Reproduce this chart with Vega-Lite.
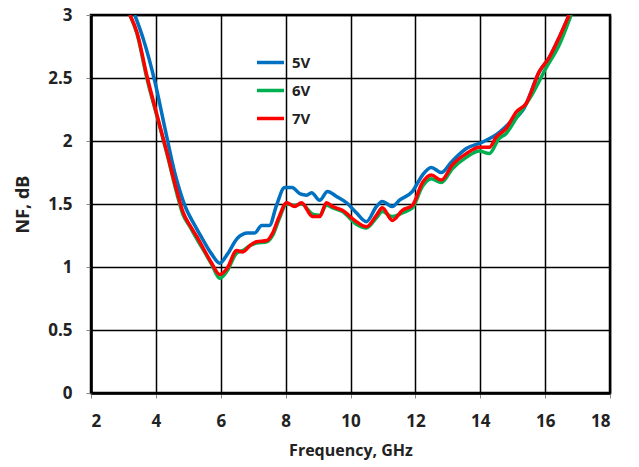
{
  "$schema": "https://vega.github.io/schema/vega-lite/v6.json",
  "width": 519,
  "height": 378,
  "autosize": {"type": "none"},
  "padding": {"left": 91, "top": 15, "right": 29, "bottom": 74},
  "background": "white",
  "config": {
    "view": {"stroke": "black", "strokeWidth": 2.5},
    "font": "Open Sans"
  },
  "data": {
    "values": [
      {"f": 3.35, "nf": 3.0, "s": "5V"}, {"f": 3.6, "nf": 2.82, "s": "5V"}, {"f": 3.97, "nf": 2.47, "s": "5V"}, {"f": 4.28, "nf": 2.1, "s": "5V"}, {"f": 4.58, "nf": 1.75, "s": "5V"}, {"f": 4.89, "nf": 1.49, "s": "5V"}, {"f": 5.2, "nf": 1.33, "s": "5V"}, {"f": 5.42, "nf": 1.23, "s": "5V"}, {"f": 5.7, "nf": 1.11, "s": "5V"}, {"f": 5.97, "nf": 1.03, "s": "5V"}, {"f": 6.2, "nf": 1.1, "s": "5V"}, {"f": 6.52, "nf": 1.23, "s": "5V"}, {"f": 6.83, "nf": 1.27, "s": "5V"}, {"f": 7.05, "nf": 1.27, "s": "5V"}, {"f": 7.26, "nf": 1.33, "s": "5V"}, {"f": 7.5, "nf": 1.33, "s": "5V"}, {"f": 7.72, "nf": 1.49, "s": "5V"}, {"f": 7.97, "nf": 1.63, "s": "5V"}, {"f": 8.2, "nf": 1.63, "s": "5V"}, {"f": 8.45, "nf": 1.58, "s": "5V"}, {"f": 8.65, "nf": 1.57, "s": "5V"}, {"f": 8.8, "nf": 1.59, "s": "5V"}, {"f": 9.05, "nf": 1.53, "s": "5V"}, {"f": 9.29, "nf": 1.6, "s": "5V"}, {"f": 9.57, "nf": 1.56, "s": "5V"}, {"f": 9.88, "nf": 1.51, "s": "5V"}, {"f": 10.18, "nf": 1.43, "s": "5V"}, {"f": 10.49, "nf": 1.36, "s": "5V"}, {"f": 10.8, "nf": 1.48, "s": "5V"}, {"f": 10.98, "nf": 1.52, "s": "5V"}, {"f": 11.29, "nf": 1.48, "s": "5V"}, {"f": 11.51, "nf": 1.53, "s": "5V"}, {"f": 11.91, "nf": 1.6, "s": "5V"}, {"f": 12.22, "nf": 1.73, "s": "5V"}, {"f": 12.49, "nf": 1.79, "s": "5V"}, {"f": 12.8, "nf": 1.75, "s": "5V"}, {"f": 13.1, "nf": 1.83, "s": "5V"}, {"f": 13.57, "nf": 1.94, "s": "5V"}, {"f": 14.06, "nf": 1.99, "s": "5V"}, {"f": 14.49, "nf": 2.05, "s": "5V"}, {"f": 14.89, "nf": 2.14, "s": "5V"}, {"f": 15.35, "nf": 2.26, "s": "5V"}, {"f": 15.82, "nf": 2.55, "s": "5V"}, {"f": 16.12, "nf": 2.66, "s": "5V"}, {"f": 16.43, "nf": 2.82, "s": "5V"}, {"f": 16.74, "nf": 3.0, "s": "5V"},

      {"f": 3.2, "nf": 3.0, "s": "6V"}, {"f": 3.42, "nf": 2.85, "s": "6V"}, {"f": 3.72, "nf": 2.5, "s": "6V"}, {"f": 4.03, "nf": 2.2, "s": "6V"}, {"f": 4.34, "nf": 1.9, "s": "6V"}, {"f": 4.65, "nf": 1.58, "s": "6V"}, {"f": 4.83, "nf": 1.42, "s": "6V"}, {"f": 5.05, "nf": 1.32, "s": "6V"}, {"f": 5.29, "nf": 1.21, "s": "6V"}, {"f": 5.5, "nf": 1.12, "s": "6V"}, {"f": 5.72, "nf": 1.02, "s": "6V"}, {"f": 5.97, "nf": 0.91, "s": "6V"}, {"f": 6.2, "nf": 0.97, "s": "6V"}, {"f": 6.49, "nf": 1.11, "s": "6V"}, {"f": 6.68, "nf": 1.13, "s": "6V"}, {"f": 6.9, "nf": 1.17, "s": "6V"}, {"f": 7.1, "nf": 1.19, "s": "6V"}, {"f": 7.42, "nf": 1.2, "s": "6V"}, {"f": 7.6, "nf": 1.25, "s": "6V"}, {"f": 7.8, "nf": 1.38, "s": "6V"}, {"f": 8.03, "nf": 1.5, "s": "6V"}, {"f": 8.28, "nf": 1.49, "s": "6V"}, {"f": 8.49, "nf": 1.5, "s": "6V"}, {"f": 8.83, "nf": 1.42, "s": "6V"}, {"f": 9.05, "nf": 1.41, "s": "6V"}, {"f": 9.26, "nf": 1.49, "s": "6V"}, {"f": 9.45, "nf": 1.47, "s": "6V"}, {"f": 9.75, "nf": 1.44, "s": "6V"}, {"f": 10.18, "nf": 1.34, "s": "6V"}, {"f": 10.49, "nf": 1.31, "s": "6V"}, {"f": 10.8, "nf": 1.39, "s": "6V"}, {"f": 10.98, "nf": 1.44, "s": "6V"}, {"f": 11.29, "nf": 1.4, "s": "6V"}, {"f": 11.6, "nf": 1.43, "s": "6V"}, {"f": 11.91, "nf": 1.47, "s": "6V"}, {"f": 12.22, "nf": 1.64, "s": "6V"}, {"f": 12.49, "nf": 1.7, "s": "6V"}, {"f": 12.8, "nf": 1.67, "s": "6V"}, {"f": 13.14, "nf": 1.78, "s": "6V"}, {"f": 13.57, "nf": 1.87, "s": "6V"}, {"f": 13.97, "nf": 1.92, "s": "6V"}, {"f": 14.28, "nf": 1.9, "s": "6V"}, {"f": 14.58, "nf": 2.02, "s": "6V"}, {"f": 14.8, "nf": 2.06, "s": "6V"}, {"f": 15.11, "nf": 2.18, "s": "6V"}, {"f": 15.6, "nf": 2.37, "s": "6V"}, {"f": 16.03, "nf": 2.58, "s": "6V"}, {"f": 16.43, "nf": 2.76, "s": "6V"}, {"f": 16.8, "nf": 3.0, "s": "6V"},

      {"f": 3.2, "nf": 3.0, "s": "7V"}, {"f": 3.42, "nf": 2.86, "s": "7V"}, {"f": 3.72, "nf": 2.52, "s": "7V"}, {"f": 4.03, "nf": 2.21, "s": "7V"}, {"f": 4.34, "nf": 1.91, "s": "7V"}, {"f": 4.65, "nf": 1.6, "s": "7V"}, {"f": 4.83, "nf": 1.44, "s": "7V"}, {"f": 5.05, "nf": 1.33, "s": "7V"}, {"f": 5.29, "nf": 1.23, "s": "7V"}, {"f": 5.5, "nf": 1.13, "s": "7V"}, {"f": 5.72, "nf": 1.03, "s": "7V"}, {"f": 5.97, "nf": 0.94, "s": "7V"}, {"f": 6.2, "nf": 0.99, "s": "7V"}, {"f": 6.49, "nf": 1.13, "s": "7V"}, {"f": 6.68, "nf": 1.12, "s": "7V"}, {"f": 6.9, "nf": 1.17, "s": "7V"}, {"f": 7.1, "nf": 1.2, "s": "7V"}, {"f": 7.42, "nf": 1.21, "s": "7V"}, {"f": 7.6, "nf": 1.27, "s": "7V"}, {"f": 7.8, "nf": 1.4, "s": "7V"}, {"f": 8.03, "nf": 1.51, "s": "7V"}, {"f": 8.28, "nf": 1.48, "s": "7V"}, {"f": 8.49, "nf": 1.51, "s": "7V"}, {"f": 8.83, "nf": 1.4, "s": "7V"}, {"f": 9.05, "nf": 1.4, "s": "7V"}, {"f": 9.26, "nf": 1.51, "s": "7V"}, {"f": 9.45, "nf": 1.48, "s": "7V"}, {"f": 9.75, "nf": 1.45, "s": "7V"}, {"f": 10.18, "nf": 1.36, "s": "7V"}, {"f": 10.49, "nf": 1.32, "s": "7V"}, {"f": 10.8, "nf": 1.41, "s": "7V"}, {"f": 10.98, "nf": 1.47, "s": "7V"}, {"f": 11.29, "nf": 1.37, "s": "7V"}, {"f": 11.6, "nf": 1.45, "s": "7V"}, {"f": 11.91, "nf": 1.49, "s": "7V"}, {"f": 12.22, "nf": 1.67, "s": "7V"}, {"f": 12.49, "nf": 1.73, "s": "7V"}, {"f": 12.8, "nf": 1.69, "s": "7V"}, {"f": 13.14, "nf": 1.81, "s": "7V"}, {"f": 13.57, "nf": 1.9, "s": "7V"}, {"f": 13.97, "nf": 1.95, "s": "7V"}, {"f": 14.28, "nf": 1.95, "s": "7V"}, {"f": 14.49, "nf": 2.03, "s": "7V"}, {"f": 14.8, "nf": 2.1, "s": "7V"}, {"f": 15.11, "nf": 2.23, "s": "7V"}, {"f": 15.42, "nf": 2.3, "s": "7V"}, {"f": 15.82, "nf": 2.55, "s": "7V"}, {"f": 16.12, "nf": 2.66, "s": "7V"}, {"f": 16.43, "nf": 2.82, "s": "7V"}, {"f": 16.74, "nf": 3.0, "s": "7V"}
    ]
  },
  "mark": {"type": "line", "interpolate": "monotone", "strokeWidth": 3.5, "clip": true},
  "encoding": {
    "x": {
      "field": "f", "type": "quantitative",
      "scale": {"domain": [2, 18], "nice": false, "zero": false},
      "axis": {
        "title": "Frequency, GHz", "values": [2, 4, 6, 8, 10, 12, 14, 16, 18],
        "grid": true, "gridColor": "black", "gridOpacity": 1, "gridWidth": 1.5,
        "domainColor": "black", "domainWidth": 2.5, "tickColor": "#888", "tickSize": 5,
        "labelFont": "Open Sans", "labelFontSize": 17, "labelFontWeight": "bold", "labelColor": "#222", "labelPadding": 15,
        "titleFont": "Open Sans", "titleFontSize": 16, "titleFontWeight": "bold", "titleColor": "#222", "titlePadding": 13
      }
    },
    "y": {
      "field": "nf", "type": "quantitative",
      "scale": {"domain": [0, 3], "nice": false},
      "axis": {
        "title": "NF, dB", "values": [0, 0.5, 1, 1.5, 2, 2.5, 3], "format": "~g",
        "grid": true, "gridColor": "black", "gridOpacity": 1, "gridWidth": 1.5,
        "domainColor": "black", "domainWidth": 2.5, "tickColor": "#888", "tickSize": 5,
        "labelFont": "Open Sans", "labelFontSize": 17, "labelFontWeight": "bold", "labelColor": "#222", "labelPadding": 14,
        "titleFont": "Open Sans", "titleFontSize": 18, "titleFontWeight": "bold", "titleColor": "#222", "titlePadding": 15
      }
    },
    "color": {
      "field": "s", "type": "nominal",
      "scale": {"domain": ["5V", "6V", "7V"], "range": ["#0070C0", "#00B050", "#FF0000"]},
      "legend": {
        "title": null, "orient": "none", "legendX": 164, "legendY": 32,
        "symbolType": "stroke", "symbolSize": 729, "symbolStrokeWidth": 3.5,
        "labelFont": "Open Sans", "labelFontSize": 15, "labelFontWeight": "bold", "labelColor": "#222",
        "labelOffset": 6, "rowPadding": 4, "padding": 0
      }
    }
  }
}
